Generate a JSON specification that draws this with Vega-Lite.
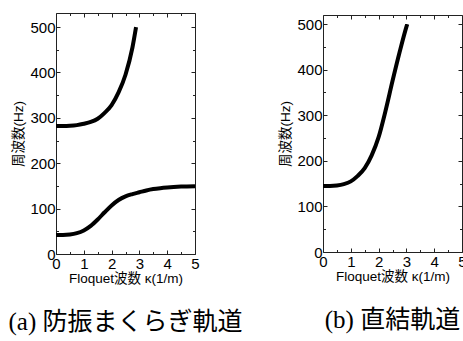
{
  "$schema": "https://vega.github.io/schema/vega-lite/v6.json",
  "padding": {"left": 8, "top": 12, "right": 0, "bottom": 0},
  "background": "white",
  "spacing": 128,
  "bounds": "flush",
  "center": true,
  "datasets": {
    "a": [
      {"k": 0, "f": 42, "branch": "low"},
      {"k": 0.25, "f": 42, "branch": "low"},
      {"k": 0.5, "f": 43, "branch": "low"},
      {"k": 0.75, "f": 46, "branch": "low"},
      {"k": 1.0, "f": 52, "branch": "low"},
      {"k": 1.25, "f": 62, "branch": "low"},
      {"k": 1.5, "f": 76, "branch": "low"},
      {"k": 1.75, "f": 92, "branch": "low"},
      {"k": 2.0, "f": 107, "branch": "low"},
      {"k": 2.25, "f": 119, "branch": "low"},
      {"k": 2.5, "f": 127, "branch": "low"},
      {"k": 2.75, "f": 132, "branch": "low"},
      {"k": 3.0, "f": 136, "branch": "low"},
      {"k": 3.25, "f": 140, "branch": "low"},
      {"k": 3.5, "f": 143, "branch": "low"},
      {"k": 3.75, "f": 145, "branch": "low"},
      {"k": 4.0, "f": 146.5, "branch": "low"},
      {"k": 4.5, "f": 148.5, "branch": "low"},
      {"k": 5.0, "f": 149.5, "branch": "low"},
      {"k": 0, "f": 282, "branch": "high"},
      {"k": 0.25, "f": 282, "branch": "high"},
      {"k": 0.5, "f": 282.5, "branch": "high"},
      {"k": 0.75, "f": 284, "branch": "high"},
      {"k": 1.0, "f": 287, "branch": "high"},
      {"k": 1.25, "f": 291, "branch": "high"},
      {"k": 1.5, "f": 298, "branch": "high"},
      {"k": 1.75, "f": 311, "branch": "high"},
      {"k": 2.0, "f": 328, "branch": "high"},
      {"k": 2.25, "f": 356, "branch": "high"},
      {"k": 2.5, "f": 395, "branch": "high"},
      {"k": 2.75, "f": 455, "branch": "high"},
      {"k": 2.88, "f": 500, "branch": "high"}
    ],
    "b": [
      {"k": 0, "f": 145},
      {"k": 0.25, "f": 145},
      {"k": 0.5, "f": 146},
      {"k": 0.75, "f": 149},
      {"k": 1.0, "f": 155},
      {"k": 1.25, "f": 167},
      {"k": 1.5, "f": 184},
      {"k": 1.75, "f": 212},
      {"k": 2.0, "f": 252},
      {"k": 2.25, "f": 310},
      {"k": 2.5, "f": 375},
      {"k": 2.75, "f": 437},
      {"k": 3.0, "f": 494},
      {"k": 3.03, "f": 500}
    ]
  },
  "config": {
    "view": {"stroke": "#222", "strokeWidth": 1},
    "font": "Liberation Sans, Noto Sans CJK JP",
    "axis": {
      "domain": false,
      "grid": false,
      "labelFont": "Liberation Sans",
      "labelFontSize": 15,
      "labelColor": "#000",
      "tickColor": "#222",
      "titleFont": "Liberation Sans, Noto Sans CJK JP",
      "titleFontSize": 13.5,
      "titleFontWeight": "normal",
      "titleColor": "#000",
      "labelOverlap": false,
      "labelFlush": false
    },
    "title": {
      "font": "Liberation Serif, DejaVu Serif, Noto Sans CJK JP",
      "fontSize": 25,
      "fontWeight": "normal",
      "color": "#000"
    }
  },
  "hconcat": [
    {
      "width": 139,
      "height": 241,
      "title": {"text": "(a) 防振まくらぎ軌道", "orient": "bottom", "anchor": "middle", "frame": "group", "offset": 25, "font": "Liberation Serif, DejaVu Serif, Noto Sans CJK JP"},
      "data": {"name": "a"},
      "layer": [
        {
          "mark": {"type": "line", "color": "#000", "strokeWidth": 4, "interpolate": "monotone"},
          "encoding": {
            "x": {"field": "k", "type": "quantitative", "scale": {"domain": [0, 5], "nice": false},
              "axis": {"orient": "bottom", "title": "Floquet波数 κ(1/m)", "values": [0,0.5,1,1.5,2,2.5,3,3.5,4,4.5,5],
                "labelExpr": "datum.value % 1 === 0 ? format(datum.value, 'd') : ''",
                "labelPadding": 6,
                "tickSize": {"condition": {"test": "datum.value % 1 === 0", "value": -4}, "value": -2.5},
                "titlePadding": -1}},
            "y": {"field": "f", "type": "quantitative", "scale": {"domain": [0, 531], "nice": false},
              "axis": {"orient": "left", "title": "周波数(Hz)", "values": [0,50,100,150,200,250,300,350,400,450,500],
                "labelExpr": "datum.value % 100 === 0 ? datum.label : ''",
                "labelPadding": 5,
                "tickSize": {"condition": {"test": "datum.value % 100 === 0", "value": -4}, "value": -2.5},
                "titlePadding": 4}},
            "detail": {"field": "branch"}
          }
        },
        {
          "mark": {"type": "line", "opacity": 0},
          "encoding": {
            "x": {"field": "k", "type": "quantitative",
              "axis": {"orient": "top", "title": null, "labels": false, "values": [0,0.5,1,1.5,2,2.5,3,3.5,4,4.5,5],
                "tickSize": {"condition": {"test": "datum.value % 1 === 0", "value": -4}, "value": -2.5}}},
            "y": {"field": "f", "type": "quantitative",
              "axis": {"orient": "right", "title": null, "labels": false, "values": [0,50,100,150,200,250,300,350,400,450,500],
                "tickSize": {"condition": {"test": "datum.value % 100 === 0", "value": -4}, "value": -2.5}}},
            "detail": {"field": "branch"}
          }
        }
      ]
    },
    {
      "width": 139,
      "height": 237,
      "title": {"text": "(b) 直結軌道", "orient": "bottom", "anchor": "middle", "frame": "group", "offset": 25, "font": "Liberation Serif, DejaVu Serif, Noto Sans CJK JP"},
      "data": {"name": "b"},
      "layer": [
        {
          "mark": {"type": "line", "color": "#000", "strokeWidth": 4, "interpolate": "monotone"},
          "encoding": {
            "x": {"field": "k", "type": "quantitative", "scale": {"domain": [0, 5], "nice": false},
              "axis": {"orient": "bottom", "title": "Floquet波数 κ(1/m)", "values": [0,0.5,1,1.5,2,2.5,3,3.5,4,4.5,5],
                "labelExpr": "datum.value % 1 === 0 ? format(datum.value, 'd') : ''",
                "labelPadding": 6,
                "tickSize": {"condition": {"test": "datum.value % 1 === 0", "value": -4}, "value": -2.5},
                "titlePadding": -1}},
            "y": {"field": "f", "type": "quantitative", "scale": {"domain": [0, 520], "nice": false},
              "axis": {"orient": "left", "title": "周波数(Hz)", "values": [0,50,100,150,200,250,300,350,400,450,500],
                "labelExpr": "datum.value % 100 === 0 ? datum.label : ''",
                "labelPadding": 5,
                "tickSize": {"condition": {"test": "datum.value % 100 === 0", "value": -4}, "value": -2.5},
                "titlePadding": 4}}
          }
        },
        {
          "mark": {"type": "line", "opacity": 0},
          "encoding": {
            "x": {"field": "k", "type": "quantitative",
              "axis": {"orient": "top", "title": null, "labels": false, "values": [0,0.5,1,1.5,2,2.5,3,3.5,4,4.5,5],
                "tickSize": {"condition": {"test": "datum.value % 1 === 0", "value": -4}, "value": -2.5}}},
            "y": {"field": "f", "type": "quantitative",
              "axis": {"orient": "right", "title": null, "labels": false, "values": [0,50,100,150,200,250,300,350,400,450,500],
                "tickSize": {"condition": {"test": "datum.value % 100 === 0", "value": -4}, "value": -2.5}}}
          }
        }
      ]
    }
  ]
}
